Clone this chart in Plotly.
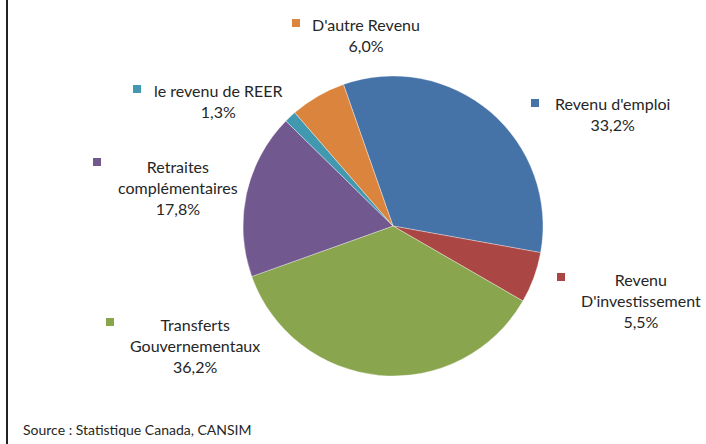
import plotly.graph_objects as go

W, H = 706, 444

labels = ["Revenu d'emploi", "Revenu D'investissement", "Transferts Gouvernementaux",
          "Retraites complémentaires", "le revenu de REER", "D'autre Revenu"]
values = [33.2, 5.5, 36.2, 17.8, 1.3, 6.0]
colors = ["#4572A7", "#AA4643", "#89A54E", "#71588F", "#4198AF", "#DB843D"]
label_lines = [["Revenu d'emploi"], ["Revenu", "D'investissement"],
               ["Transferts", "Gouvernementaux"], ["Retraites", "complémentaires"],
               ["le revenu de REER"], ["D'autre Revenu"]]
source_text = "Source : Statistique Canada, CANSIM"

# label layout (pixel positions): text block center, square center
label_pos = [
    (612, 114.5, 535, 103),
    (641, 300, 561, 277),
    (195, 345, 110, 322),
    (178, 187, 97, 162),
    (218, 101, 137, 89),
    (366, 35, 296, 23),
]

def px(x):
    return x / W

def py(y):
    return 1 - y / H

cx, cy, r = 393, 226, 150
fig = go.Figure(go.Pie(
    labels=labels, values=values, sort=False, direction="clockwise",
    rotation=-19.3, textinfo="none", hoverinfo="skip", showlegend=False,
    marker=dict(colors=colors, line=dict(color="rgba(255,255,255,0.6)", width=0.6)),
    domain=dict(x=[px(cx - r), px(cx + r)], y=[py(cy + r), py(cy - r)]),
))

font = dict(family="Lato, 'Open Sans', sans-serif", size=16, color="#262626")
annotations = []
shapes = []
for lines, v, col, (tx, ty, sx, sy) in zip(label_lines, values, colors, label_pos):
    txt = "<br>".join(lines + [f"{v:.1f}".replace(".", ",") + "%"])
    annotations.append(dict(x=px(tx), y=py(ty), xref="paper", yref="paper",
                            text=txt, showarrow=False, align="center",
                            xanchor="center", yanchor="middle", font=font))
    shapes.append(dict(type="rect", xref="paper", yref="paper",
                       x0=px(sx - 4), x1=px(sx + 4), y0=py(sy + 4), y1=py(sy - 4),
                       fillcolor=col, line=dict(width=0)))

annotations.append(dict(x=px(21), y=py(429), xref="paper", yref="paper",
                        text=source_text, showarrow=False, xanchor="left",
                        yanchor="middle",
                        font=dict(family="Lato, 'Open Sans', sans-serif", size=14,
                                  color="#262626")))
shapes.append(dict(type="line", xref="paper", yref="paper",
                   x0=px(7), x1=px(7), y0=0, y1=1,
                   line=dict(color="#222222", width=2)))

fig.update_layout(width=W, height=H, margin=dict(l=0, r=0, t=0, b=0),
                  paper_bgcolor="white", plot_bgcolor="white",
                  annotations=annotations, shapes=shapes)
fig.write_html("out.html", config={"displayModeBar": False},
               post_script="document.body.style.margin='0';")
